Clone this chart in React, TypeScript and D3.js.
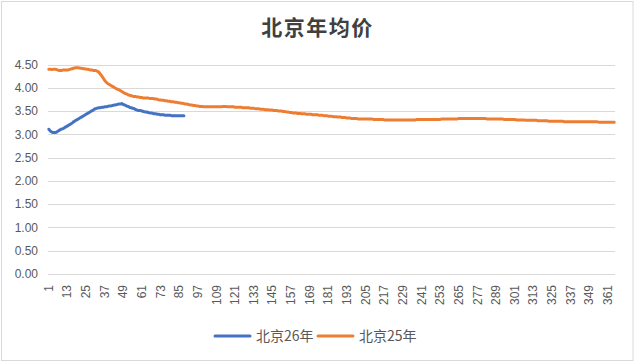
import * as d3 from 'd3';
import * as React from 'react';

const { useLayoutEffect } = React;

const width = 635;
const height = 362;
const margin = { top: 64.5, right: 20, bottom: 88, left: 48 };

const title = '北京年均价';
const yTicks = [0, 0.5, 1, 1.5, 2, 2.5, 3, 3.5, 4, 4.5];
const dayCount = 365;
const days = d3.range(1, dayCount + 1);
const dayLabels = days.filter(d => (d - 1) % 12 === 0);

// 北京25年, one value per day
const series25 = [
  4.40, 4.40, 4.39, 4.40, 4.40, 4.39, 4.38, 4.37, 4.37, 4.38, 4.38, 4.38,
  4.38, 4.39, 4.40, 4.41, 4.42, 4.43, 4.43, 4.43, 4.42, 4.42, 4.41, 4.41,
  4.40, 4.40, 4.39, 4.38, 4.38, 4.37, 4.37, 4.36, 4.34, 4.30, 4.26, 4.21,
  4.16, 4.12, 4.09, 4.07, 4.05, 4.03, 4.01, 3.99, 3.97, 3.96, 3.94, 3.92,
  3.90, 3.88, 3.87, 3.85, 3.84, 3.83, 3.82, 3.81, 3.81, 3.80, 3.80, 3.79,
  3.79, 3.78, 3.78, 3.78, 3.78, 3.77, 3.77, 3.77, 3.76, 3.76, 3.75, 3.74,
  3.74, 3.73, 3.73, 3.72, 3.72, 3.71, 3.71, 3.70, 3.70, 3.69, 3.69, 3.68,
  3.68, 3.67, 3.67, 3.66, 3.65, 3.65, 3.64, 3.63, 3.63, 3.62, 3.62, 3.61,
  3.61, 3.60, 3.60, 3.60, 3.59, 3.59, 3.59, 3.59, 3.59, 3.59, 3.59, 3.59,
  3.59, 3.59, 3.59, 3.59, 3.60, 3.60, 3.60, 3.59, 3.59, 3.59, 3.59, 3.59,
  3.58, 3.58, 3.58, 3.58, 3.58, 3.57, 3.57, 3.57, 3.57, 3.57, 3.56, 3.56,
  3.56, 3.55, 3.55, 3.55, 3.54, 3.54, 3.54, 3.53, 3.53, 3.53, 3.52, 3.52,
  3.52, 3.51, 3.51, 3.51, 3.50, 3.50, 3.50, 3.49, 3.49, 3.48, 3.48, 3.47,
  3.47, 3.46, 3.46, 3.46, 3.45, 3.45, 3.45, 3.44, 3.44, 3.44, 3.43, 3.43,
  3.43, 3.43, 3.42, 3.42, 3.42, 3.42, 3.41, 3.41, 3.41, 3.40, 3.40, 3.40,
  3.39, 3.39, 3.39, 3.38, 3.38, 3.38, 3.37, 3.37, 3.37, 3.36, 3.36, 3.36,
  3.35, 3.35, 3.35, 3.34, 3.34, 3.34, 3.34, 3.33, 3.33, 3.33, 3.33, 3.33,
  3.33, 3.33, 3.33, 3.33, 3.33, 3.32, 3.32, 3.32, 3.32, 3.32, 3.32, 3.32,
  3.31, 3.31, 3.31, 3.31, 3.31, 3.31, 3.31, 3.31, 3.31, 3.31, 3.31, 3.31,
  3.31, 3.31, 3.31, 3.31, 3.31, 3.31, 3.31, 3.31, 3.31, 3.32, 3.32, 3.32,
  3.32, 3.32, 3.32, 3.32, 3.32, 3.32, 3.32, 3.32, 3.32, 3.32, 3.32, 3.32,
  3.32, 3.33, 3.33, 3.33, 3.33, 3.33, 3.33, 3.33, 3.33, 3.33, 3.33, 3.33,
  3.34, 3.34, 3.34, 3.34, 3.34, 3.34, 3.34, 3.34, 3.34, 3.34, 3.34, 3.34,
  3.34, 3.34, 3.34, 3.34, 3.34, 3.34, 3.33, 3.33, 3.33, 3.33, 3.33, 3.33,
  3.33, 3.33, 3.33, 3.33, 3.33, 3.32, 3.32, 3.32, 3.32, 3.32, 3.32, 3.32,
  3.32, 3.31, 3.31, 3.31, 3.31, 3.31, 3.31, 3.30, 3.30, 3.30, 3.30, 3.30,
  3.30, 3.30, 3.30, 3.29, 3.29, 3.29, 3.29, 3.29, 3.29, 3.29, 3.28, 3.28,
  3.28, 3.28, 3.28, 3.28, 3.28, 3.28, 3.28, 3.28, 3.27, 3.27, 3.27, 3.27,
  3.27, 3.27, 3.27, 3.27, 3.27, 3.27, 3.27, 3.27, 3.27, 3.27, 3.27, 3.27,
  3.27, 3.27, 3.27, 3.27, 3.27, 3.27, 3.26, 3.26, 3.26, 3.26, 3.26, 3.26,
  3.26, 3.26, 3.26, 3.26, 3.26,
];

// 北京26年, only the first 88 days so far
const series26 = [
  3.11, 3.07, 3.05, 3.04, 3.04, 3.05, 3.07, 3.09, 3.11, 3.12, 3.14, 3.16,
  3.18, 3.20, 3.22, 3.24, 3.27, 3.29, 3.31, 3.33, 3.35, 3.37, 3.39, 3.41,
  3.43, 3.45, 3.47, 3.49, 3.51, 3.53, 3.55, 3.56, 3.57, 3.57, 3.58, 3.58,
  3.59, 3.59, 3.60, 3.61, 3.61, 3.62, 3.63, 3.63, 3.64, 3.65, 3.65, 3.66,
  3.64, 3.63, 3.61, 3.60, 3.58, 3.57, 3.56, 3.55, 3.53, 3.52, 3.51, 3.51,
  3.50, 3.49, 3.48, 3.48, 3.47, 3.46, 3.46, 3.45, 3.44, 3.44, 3.43, 3.43,
  3.42, 3.42, 3.42, 3.41, 3.41, 3.41, 3.41, 3.40, 3.40, 3.40, 3.40, 3.40,
  3.40, 3.40, 3.40, 3.40,
];

const seriesList = [
  { name: '北京26年', color: '#4472C4', values: series26 },
  { name: '北京25年', color: '#ED7D31', values: series25 },
];

const labelFont = '"Liberation Sans", Arial, sans-serif';
const cjkFont = '"Noto Sans CJK SC", "Noto Sans", sans-serif';

export default function App() {
  useLayoutEffect(() => {
    document.body.style.margin = '0';
  }, []);

  const x = d3
    .scalePoint<number>()
    .domain(days)
    .range([margin.left, width - margin.right])
    .padding(0.5);

  const y = d3
    .scaleLinear()
    .domain([0, 4.5])
    .range([height - margin.bottom, margin.top]);

  const line = d3
    .line<number>()
    .x((_, i) => x(i + 1) as number)
    .y(d => y(d))
    .curve(d3.curveMonotoneX);

  const legendItems = [
    { x: 215, ...seriesList[0] },
    { x: 318, ...seriesList[1] },
  ];

  return (
    <svg width={width} height={height} style={{ display: 'block' }}>
      <rect x={0} y={0} width={width} height={height} fill="#fff" />
      <rect x={1.5} y={1.5} width={631.5} height={359} fill="none" stroke="#d9d9d9" />

      <text
        x={317.5}
        y={35}
        textAnchor="middle"
        fontFamily={cjkFont}
        fontSize={21}
        fontWeight="bold"
        fill="#404040"
        letterSpacing={1.5}
      >
        {title}
      </text>

      <g>
        {yTicks.map(t => (
          <g key={t}>
            <line
              x1={margin.left}
              x2={width - margin.right}
              y1={Math.round(y(t)) + 0.5}
              y2={Math.round(y(t)) + 0.5}
              stroke="#d9d9d9"
            />
            <text
              x={38}
              y={y(t)}
              dy="0.35em"
              textAnchor="end"
              fontFamily={labelFont}
              fontSize={12}
              fill="#595959"
            >
              {t.toFixed(2)}
            </text>
          </g>
        ))}
      </g>

      <g>
        {dayLabels.map(d => (
          <text
            key={d}
            transform={`translate(${(x(d) as number) + 4},${285}) rotate(-90)`}
            textAnchor="end"
            fontFamily={labelFont}
            fontSize={12}
            fill="#595959"
          >
            {d}
          </text>
        ))}
      </g>

      <g>
        {seriesList
          .slice()
          .reverse()
          .map(s => (
            <path
              key={s.name}
              d={line(s.values) as string}
              fill="none"
              stroke={s.color}
              strokeWidth={3}
              strokeLinecap="round"
              strokeLinejoin="round"
            />
          ))}
      </g>

      <g>
        {legendItems.map(item => (
          <g key={item.name} transform={`translate(${item.x},336)`}>
            <line x1={0} x2={35} y1={0} y2={0} stroke={item.color} strokeWidth={3} strokeLinecap="round" />
            <text x={41} dy="0.35em" fontFamily={cjkFont} fontSize={14} fill="#595959">
              {item.name}
            </text>
          </g>
        ))}
      </g>
    </svg>
  );
}
